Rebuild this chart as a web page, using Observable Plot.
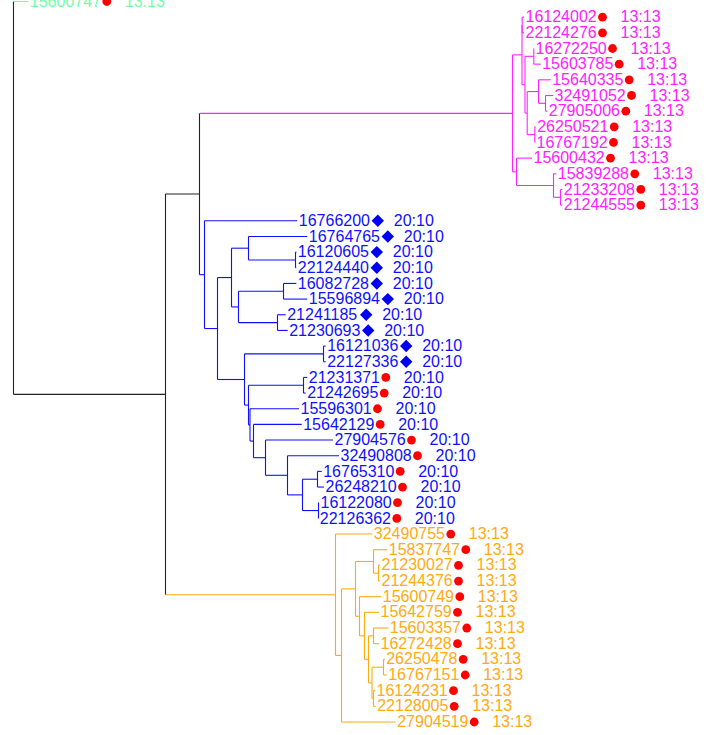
<!DOCTYPE html>
<html><head><meta charset="utf-8">
<script src="https://cdn.jsdelivr.net/npm/d3@7"></script>
<script src="https://cdn.jsdelivr.net/npm/@observablehq/plot@0.6"></script>
<style>html,body{margin:0;padding:0;background:#fff;overflow:hidden;}</style>
</head><body><div id="chart"></div>
<script>
// ---- leaves (top to bottom) ----
const leafIds = ["15600747","16124002","22124276","16272250","15603785","15640335","32491052","27905006","26250521","16767192","15600432","15839288","21233208","21244555","16766200","16764765","16120605","22124440","16082728","15596894","21241185","21230693","16121036","22127336","21231371","21242695","15596301","15642129","27904576","32490808","16765310","26248210","16122080","22126362","32490755","15837747","21230027","21244376","15600749","15642759","15603357","16272428","26250478","16767151","16124231","22128005","27904519"];
const leafTimes = ["13:13","13:13","13:13","13:13","13:13","13:13","13:13","13:13","13:13","13:13","13:13","13:13","13:13","13:13","20:10","20:10","20:10","20:10","20:10","20:10","20:10","20:10","20:10","20:10","20:10","20:10","20:10","20:10","20:10","20:10","20:10","20:10","20:10","20:10","13:13","13:13","13:13","13:13","13:13","13:13","13:13","13:13","13:13","13:13","13:13","13:13","13:13"];
const leafMarkers = ["dot","dot","dot","dot","dot","dot","dot","dot","dot","dot","dot","dot","dot","dot","diamond","diamond","diamond","diamond","diamond","diamond","diamond","diamond","diamond","diamond","dot","dot","dot","dot","dot","dot","dot","dot","dot","dot","dot","dot","dot","dot","dot","dot","dot","dot","dot","dot","dot","dot","dot"];
const leafGroups = ["g1","g2","g2","g2","g2","g2","g2","g2","g2","g2","g2","g2","g2","g2","g3","g3","g3","g3","g3","g3","g3","g3","g3","g3","g3","g3","g3","g3","g3","g3","g3","g3","g3","g3","g4","g4","g4","g4","g4","g4","g4","g4","g4","g4","g4","g4","g4"];
// distance of each tip from the root
const leafDepths = [0.0148,0.5105,0.5105,0.5205,0.5272,0.5372,0.5395,0.5338,0.5222,0.5215,0.5185,0.5428,0.5488,0.5488,0.2838,0.2938,0.2828,0.2828,0.2828,0.2938,0.2722,0.2742,0.3122,0.3122,0.2938,0.2922,0.2855,0.2882,0.3195,0.3255,0.3082,0.3105,0.3055,0.3048,0.3588,0.3738,0.3665,0.3665,0.3678,0.3655,0.3748,0.3655,0.3712,0.3732,0.3615,0.3622,0.3822];

// ---- internal nodes ----
const nodeIds = ["R","A","B","M","M1","C23","U","C45","V","S","C78","Z","M2","M2b","C1314","Bl","Bl2","Bt","Bt1","C1718","Bt2","Bt2a","C2122","Bb","C2324","Bm","C2526","Bm2","Bn","Bo","Bp","Bq","C3132","C3334","O","O2","O3","O4","C3738","O5","O6","O7","C4142","O8","C4344","C4546"];
const nodeChildren = [["L1","A"],["B","O"],["M","Bl"],["M1","M2"],["C23","U"],["L2","L3"],["C45","V"],["L4","L5"],["S","Z"],["L6","C78"],["L7","L8"],["L9","L10"],["L11","M2b"],["L12","C1314"],["L13","L14"],["L15","Bl2"],["Bt","Bb"],["Bt1","Bt2"],["L16","C1718"],["L17","L18"],["Bt2a","C2122"],["L19","L20"],["L21","L22"],["C2324","Bm"],["L23","L24"],["C2526","Bm2"],["L25","L26"],["L27","Bn"],["L28","Bo"],["L29","Bp"],["L30","Bq"],["C3132","C3334"],["L31","L32"],["L33","L34"],["L35","O2"],["O3","L47"],["O4","O5"],["L36","C3738"],["L37","L38"],["L39","O6"],["L40","O7"],["C4142","O8"],["L41","L42"],["C4344","C4546"],["L43","L44"],["L45","L46"]];
const nodeDepths = [0,0.152,0.186,0.499,0.5085,0.5087,0.5115,0.5203,0.5137,0.525,0.532,0.5213,0.503,0.540,0.547,0.191,0.204,0.218,0.235,0.282,0.225,0.270,0.264,0.231,0.310,0.235,0.290,0.2365,0.240,0.252,0.274,0.289,0.304,0.305,0.322,0.328,0.342,0.360,0.365,0.346,0.351,0.355,0.360,0.3585,0.370,0.360];

const groupColor = {g1:"#70FFA8", g2:"#FF22FF", g3:"#1010FF", g4:"#FFAA11", none:"#222222"};

// ---- layout ----
const yOf = {}, xOf = {}, gOf = {};
leafIds.forEach((id, i) => { const k = "L" + (i + 1); yOf[k] = i + 1; xOf[k] = leafDepths[i]; gOf[k] = leafGroups[i]; });
nodeIds.forEach((k, i) => { xOf[k] = nodeDepths[i]; });
function place(k) {
  if (yOf[k] !== undefined) return;
  const ch = nodeChildren[nodeIds.indexOf(k)];
  ch.forEach(place);
  yOf[k] = d3.mean(ch, c => yOf[c]);
  const gs = new Set(ch.map(c => gOf[c]));
  gOf[k] = gs.size === 1 ? [...gs][0] : "none";
}
place("R");
const segs = [];
nodeIds.forEach((k, i) => {
  const ch = nodeChildren[i];
  const ys = ch.map(c => yOf[c]);
  segs.push({x1: xOf[k], x2: xOf[k], y1: d3.min(ys), y2: d3.max(ys), g: gOf[k]});
  ch.forEach(c => segs.push({x1: xOf[k], x2: xOf[c], y1: yOf[c], y2: yOf[c], g: gOf[c]}));
});
const leaves = leafIds.map((id, i) => ({id, y: i + 1, x: leafDepths[i], time: leafTimes[i], marker: leafMarkers[i], g: leafGroups[i]}));

const font = "Liberation Sans, Arial, sans-serif";
const chart = Plot.plot({
  width: 708, height: 735, margin: 0,
  style: {fontFamily: font, background: "#fff"},
  x: {domain: [0, 0.695], range: [13, 708], axis: null},
  y: {domain: [1, 47], range: [1, 721.5], axis: null},
  marks: [
    Plot.link(segs, {x1: "x1", y1: "y1", x2: "x2", y2: "y2", stroke: d => groupColor[d.g], strokeWidth: 1.1}),
    Plot.text(leaves, {x: "x", y: "y", text: "id", dx: 1.5, textAnchor: "start", fill: d => groupColor[d.g], fontSize: 16, fontFamily: font}),
    Plot.dot(leaves.filter(d => d.marker === "dot"), {x: "x", y: "y", dx: 78.5, r: 4.4, fill: "#FF0000", stroke: null}),
    Plot.dot(leaves.filter(d => d.marker === "diamond"), {x: "x", y: "y", dx: 80.5, r: 5.6, symbol: "diamond2", fill: "#0000F0", stroke: null}),
    Plot.text(leaves, {x: "x", y: "y", text: "time", dx: 96.5, textAnchor: "start", fill: d => groupColor[d.g], fontSize: 16, fontFamily: font})
  ]
});
document.getElementById("chart").append(chart);
</script>
</body></html>
